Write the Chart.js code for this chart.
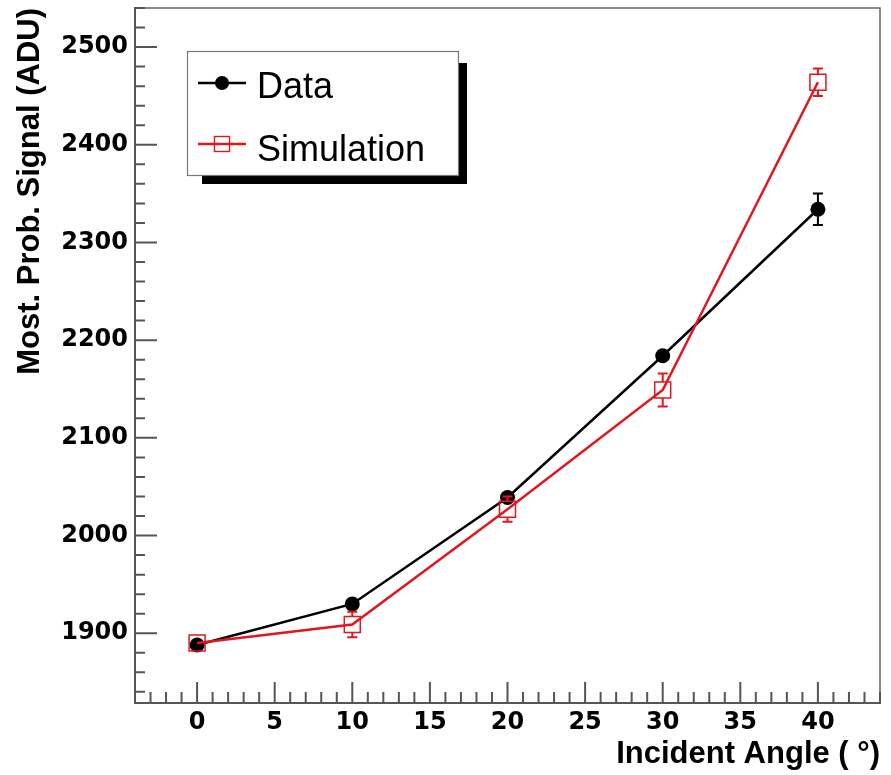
<!DOCTYPE html>
<html>
<head>
<meta charset="utf-8">
<script src="https://cdn.jsdelivr.net/npm/chart.js@4.4.0/dist/chart.umd.min.js"></script>
<style>
  html, body { margin: 0; padding: 0; background: #fff; }
  #wrap { width: 891px; height: 775px; }
</style>
</head>
<body>
<div id="wrap"><canvas id="myChart" width="891" height="775"></canvas></div>
<script>
// values
const angles = [0, 10, 20, 30, 40];
const dataValues = [1888, 1930, 2039, 2184, 2334];
const dataErrors = [3, 3, 4, 4, 16];
const simValues = [1890, 1909, 2027, 2149, 2464];
const simErrors = [4, 13, 13, 17, 14];
const xTicks = [0, 5, 10, 15, 20, 25, 30, 35, 40];
const yTicks = [1900, 2000, 2100, 2200, 2300, 2400, 2500];
const legendLabels = ["Data", "Simulation"];

const RED = "#e3161e";
const AXIS = "#555";

function pts(vals) {
  return angles.map((a, i) => ({ x: a, y: vals[i] }));
}

const data = {
  datasets: [
    {
      label: legendLabels[0],
      data: pts(dataValues),
      errors: dataErrors,
      markerHalf: 7,
      borderColor: "#000",
      backgroundColor: "#000",
      borderWidth: 2.5,
      pointStyle: "circle",
      pointRadius: 7.5,
      pointBorderWidth: 0,
      order: 2,
    },
    {
      label: legendLabels[1],
      data: pts(simValues),
      errors: simErrors,
      markerHalf: 8,
      borderColor: RED,
      backgroundColor: "rgba(0,0,0,0)",
      borderWidth: 2.5,
      pointStyle: "rect",
      pointRadius: 11.3,
      pointBorderWidth: 1.5,
      pointBorderColor: RED,
      order: 1,
    },
  ],
};

// error bars, frame, inward ticks and ROOT style legend
const rootStyle = {
  id: "rootStyle",
  beforeDraw(chart) {
    const ctx = chart.ctx;
    ctx.save();
    ctx.fillStyle = "#fff";
    ctx.fillRect(0, 0, chart.width, chart.height);
    ctx.restore();
  },
  afterDatasetsDraw(chart) {
    const ctx = chart.ctx;
    const ys = chart.scales.y;
    chart.data.datasets.forEach((ds, di) => {
      const meta = chart.getDatasetMeta(di);
      ctx.save();
      ctx.strokeStyle = ds.borderColor;
      ctx.lineWidth = 2;
      meta.data.forEach((el, i) => {
        const v = ds.data[i].y;
        const e = ds.errors[i];
        const top = ys.getPixelForValue(v + e);
        const bot = ys.getPixelForValue(v - e);
        const h = ds.markerHalf;
        ctx.beginPath();
        if (top < el.y - h) {
          ctx.moveTo(el.x, el.y - h); ctx.lineTo(el.x, top);
          ctx.moveTo(el.x - 5, top); ctx.lineTo(el.x + 5, top);
        }
        if (bot > el.y + h) {
          ctx.moveTo(el.x, el.y + h); ctx.lineTo(el.x, bot);
          ctx.moveTo(el.x - 5, bot); ctx.lineTo(el.x + 5, bot);
        }
        ctx.stroke();
      });
      ctx.restore();
    });
  },
  afterDraw(chart) {
    const ctx = chart.ctx;
    const a = chart.chartArea;
    const xs = chart.scales.x;
    const ys = chart.scales.y;
    ctx.save();
    // top and right frame
    ctx.strokeStyle = "#666";
    ctx.lineWidth = 1.5;
    ctx.beginPath();
    ctx.moveTo(a.left, a.top); ctx.lineTo(a.right, a.top); ctx.lineTo(a.right, a.bottom);
    ctx.stroke();

    // ticks pointing inwards
    ctx.strokeStyle = AXIS;
    ctx.lineWidth = 2;
    ctx.beginPath();
    for (let v = Math.ceil(xs.min); v <= xs.max; v++) {
      const px = xs.getPixelForValue(v);
      const len = v % 5 === 0 ? 21 : 11;
      ctx.moveTo(px, a.bottom); ctx.lineTo(px, a.bottom - len);
    }
    for (let v = Math.ceil(ys.min / 20) * 20; v <= ys.max; v += 20) {
      const py = ys.getPixelForValue(v);
      const len = v % 100 === 0 ? 22 : 10;
      ctx.moveTo(a.left, py); ctx.lineTo(a.left + len, py);
    }
    ctx.stroke();

    // legend box with shadow
    const bx = 187, by = 51, bw = 271, bh = 124;
    ctx.fillStyle = "#000";
    ctx.fillRect(bx + 15, by + 12, bw - 6, bh - 3);
    ctx.fillStyle = "#fff";
    ctx.fillRect(bx, by, bw, bh);
    ctx.strokeStyle = "#777";
    ctx.lineWidth = 1.2;
    ctx.strokeRect(bx + 0.5, by + 0.5, bw, bh);

    const rows = [83, 144];
    chart.data.datasets.forEach((ds, i) => {
      const y = rows[i];
      ctx.strokeStyle = ds.borderColor;
      ctx.lineWidth = 2.5;
      ctx.beginPath();
      ctx.moveTo(198, y); ctx.lineTo(246, y);
      ctx.stroke();
      if (ds.pointStyle === "circle") {
        ctx.fillStyle = "#000";
        ctx.beginPath();
        ctx.arc(222, y, 7, 0, Math.PI * 2);
        ctx.fill();
      } else {
        ctx.lineWidth = 1.4;
        ctx.strokeRect(214.5, y - 7.5, 15, 15);
      }
      ctx.fillStyle = "#000";
      ctx.font = "36px 'Liberation Sans', Arial, sans-serif";
      ctx.textAlign = "left";
      ctx.textBaseline = "alphabetic";
      ctx.fillText(ds.label, 257, i === 0 ? 98 : 161);
    });
    ctx.restore();
  },
};

const tickFont = { family: "'DejaVu Sans', sans-serif", size: 24, weight: "bold" };
const titleFont = { family: "'Liberation Sans', Arial, sans-serif", size: 31, weight: "bold" };

function noPad(s) {
  s.paddingTop = 0; s.paddingBottom = 0; s.paddingLeft = 0; s.paddingRight = 0;
}

const config = {
  type: "line",
  data: data,
  options: {
    responsive: false,
    animation: false,
    devicePixelRatio: 1,
    layout: { autoPadding: false, padding: { left: 0, right: 11, top: 8, bottom: 0 } },
    plugins: {
      legend: { display: false },
      title: { display: false },
      tooltip: { enabled: false },
    },
    scales: {
      x: {
        type: "linear",
        min: -4,
        max: 44,
        afterBuildTicks: (s) => { s.ticks = xTicks.map((v) => ({ value: v })); },
        afterFit: (s) => { s.height = 72; noPad(s); },
        grid: { display: false, drawTicks: false },
        border: { display: true, color: AXIS, width: 2 },
        ticks: { color: "#000", font: tickFont, padding: 5, maxRotation: 0, callback: (v) => String(v) },
        title: {
          display: true,
          text: "Incident Angle ( °)",
          align: "end",
          color: "#000",
          font: titleFont,
          padding: { top: 0, bottom: 2 },
        },
      },
      y: {
        type: "linear",
        min: 1828.6,
        max: 2540,
        afterBuildTicks: (s) => { s.ticks = yTicks.map((v) => ({ value: v })); },
        afterFit: (s) => { s.width = 135; noPad(s); },
        grid: { display: false, drawTicks: false },
        border: { display: true, color: AXIS, width: 2 },
        ticks: { color: "#000", font: tickFont, padding: 7, callback: (v) => String(v) },
        title: {
          display: true,
          text: "Most. Prob. Signal (ADU)",
          align: "end",
          color: "#000",
          font: titleFont,
          padding: { top: 12, bottom: 0 },
        },
      },
    },
  },
  plugins: [rootStyle],
};

let context = document.getElementById("myChart").getContext("2d");
let chart = new Chart(context, config);
</script>
</body>
</html>
